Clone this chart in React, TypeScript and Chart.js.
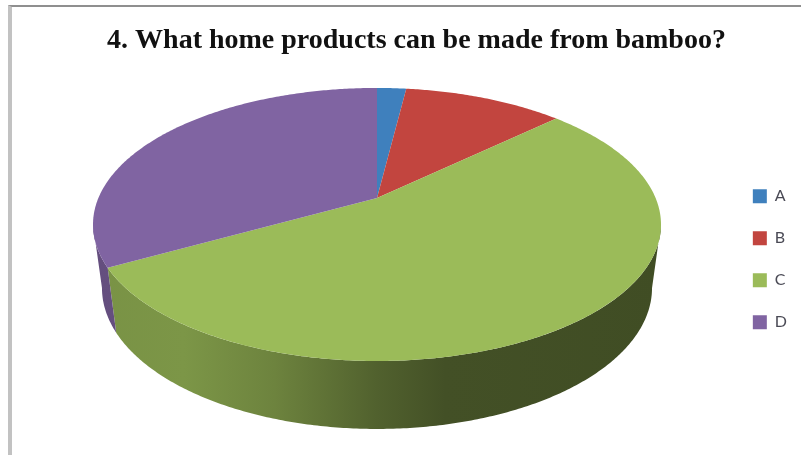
import React, { useEffect, useRef } from "react";
import { Chart, registerables } from "chart.js";

Chart.register(...registerables);

const titleText = "4. What home products can be made from bamboo?";
const categories = ["A", "B", "C", "D"];
const shares = [2, 11, 54, 33];
const sliceColors = ["#3f80bd", "#c2453f", "#9bbb59", "#8064a2"];

// Perspective projection of the round pie onto its top and bottom planes.
const tilt = 0.194;
const topPlane = { cx: 377, apexY: 198, a: 278.6, b: 131.4 };
const bottomPlane = { cx: 377, apexY: 260.6, a: 269.8, b: 135.7 };
type Plane = typeof topPlane;

// The wall is only seen between the two silhouette angles.
const wallStart = Math.acos(-tilt);
const wallEnd = 2 * Math.PI - wallStart;

const project = (p: Plane, angle: number) => {
  const x = Math.sin(angle);
  const y = Math.cos(angle);
  const w = 1 + tilt * y;
  return { x: p.cx + (p.a * x) / w, y: p.apexY - (p.b * y) / w };
};

const rimPoints = (p: Plane, from: number, to: number) => {
  const steps = Math.max(2, Math.ceil(Math.abs(to - from) / 0.01));
  const pts = [];
  for (let i = 0; i <= steps; i++) pts.push(project(p, from + ((to - from) * i) / steps));
  return pts;
};

const shade = (hex: string, f: number) => {
  const n = parseInt(hex.slice(1), 16);
  const c = [(n >> 16) & 255, (n >> 8) & 255, n & 255].map((v) => Math.round(v * f));
  return `rgb(${c[0]},${c[1]},${c[2]})`;
};

const wallShades: [number, number][] = [
  [0, 0.78],
  [0.16, 0.8],
  [0.32, 0.7],
  [0.5, 0.52],
  [0.62, 0.43],
  [1, 0.41],
];

// Draws the pie's slices as a tilted disc, using the angles the pie controller computed.
const tiltedPie = {
  id: "tiltedPie",
  beforeDatasetsDraw(chart: Chart) {
    const ctx = chart.ctx;
    const arcs = chart.getDatasetMeta(0).data as any[];
    const slices = arcs.map((arc, i) => ({
      from: arc.startAngle + Math.PI / 2,
      to: arc.endAngle + Math.PI / 2,
      color: sliceColors[i],
    }));

    ctx.save();
    // Side wall of the slices that face the viewer.
    slices.forEach((s) => {
      const from = Math.max(s.from, wallStart);
      const to = Math.min(s.to, wallEnd);
      if (to <= from) return;
      const upper = rimPoints(topPlane, from, to);
      const lower = rimPoints(bottomPlane, from, to).reverse();
      const g = ctx.createLinearGradient(93, 0, 661, 0);
      wallShades.forEach(([stop, f]) => g.addColorStop(stop, shade(s.color, f)));
      ctx.beginPath();
      [...upper, ...lower].forEach((pt, i) => (i ? ctx.lineTo(pt.x, pt.y) : ctx.moveTo(pt.x, pt.y)));
      ctx.closePath();
      ctx.fillStyle = g;
      ctx.fill();
    });

    // Top face.
    slices.forEach((s) => {
      ctx.beginPath();
      ctx.moveTo(topPlane.cx, topPlane.apexY);
      rimPoints(topPlane, s.from, s.to).forEach((pt) => ctx.lineTo(pt.x, pt.y));
      ctx.closePath();
      ctx.fillStyle = s.color;
      ctx.fill();
    });
    ctx.restore();
    return false;
  },
};

export default function App() {
  const ref = useRef<HTMLCanvasElement>(null);

  useEffect(() => {
    const chart = new Chart(ref.current!, {
      type: "pie",
      data: {
        labels: categories,
        datasets: [{ data: shares, backgroundColor: sliceColors, borderWidth: 0 }],
      },
      options: {
        animation: false,
        responsive: false,
        layout: { padding: { left: 36, right: 4, top: 0, bottom: 0 } },
        plugins: {
          tooltip: { enabled: false },
          title: {
            display: true,
            text: titleText,
            color: "#111111",
            font: { family: "'Liberation Serif'", size: 28, weight: "bold" },
            padding: { top: 24, bottom: 6 },
          },
          legend: {
            position: "right",
            fullSize: false,
            labels: {
              boxWidth: 14,
              boxHeight: 14,
              padding: 26,
              color: "#4a4a55",
              font: { family: "Lato", size: 16 },
            },
          },
        },
      },
      plugins: [tiltedPie],
    });
    return () => chart.destroy();
  }, []);

  return (
    <div style={{ position: "fixed", left: 0, top: 0, width: 801, height: 455, background: "#fff" }}>
      <canvas ref={ref} width={801} height={455} style={{ display: "block" }} />
      <div
        style={{
          position: "absolute",
          left: 8,
          top: 5,
          right: 0,
          bottom: 0,
          borderLeft: "4px solid #c2c2c2",
          borderTop: "2px solid #8f8f8f",
          pointerEvents: "none",
        }}
      />
    </div>
  );
}
